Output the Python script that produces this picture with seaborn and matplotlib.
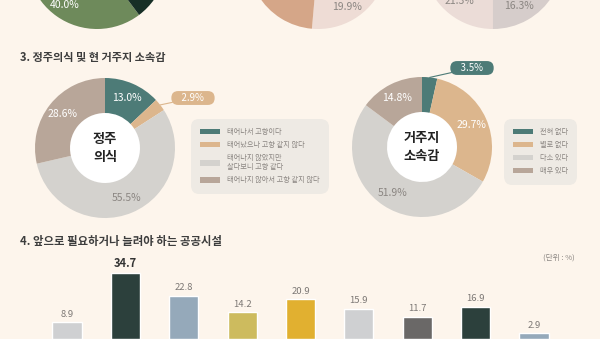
import matplotlib
matplotlib.use("Agg")
import numpy as np
import matplotlib.pyplot as plt
from matplotlib.patches import Circle
import seaborn as sns

# top row pies (only their lower edge is inside the picture)
pie1_vals = [40.0, 20.0, 25.0, 15.0]
pie1_colors = ["#6e8a5b", "#172f26", "#a7b58e", "#d3d9c0"]
pie2_vals = [19.9, 30.0, 20.0, 30.1]
pie2_colors = ["#eedcd5", "#c99c80", "#e6c7b2", "#d5a688"]
pie3_vals = [21.3, 16.3, 25.0, 37.4]
pie3_colors = ["#ebdcd7", "#d6cdcb", "#5e8a4c", "#e5dcd4"]

# 3. 정주의식 및 현 거주지 소속감
settle_labels = ["태어나서 고향이다", "태어났으나 고향 같지 않다",
                 "태어나지 않았지만\n살다보니 고향 같다", "태어나지 않아서 고향 같지 않다"]
settle_vals = [13.0, 2.9, 55.5, 28.6]
belong_labels = ["전혀 없다", "별로 없다", "다소 있다", "매우 있다"]
belong_vals = [3.5, 29.7, 51.9, 14.8]
donut_colors = ["#4d7b77", "#dcb68d", "#d4d2ce", "#b8a699"]

# 4. 앞으로 필요하거나 늘려야 하는 공공시설
facilities = ["A", "B", "C", "D", "E", "F", "G", "H", "I"]
need_vals = [8.9, 34.7, 22.8, 14.2, 20.9, 15.9, 11.7, 16.9, 2.9]
bar_colors = ["#cfd0d2", "#2c403c", "#95a9ba", "#cdbb5e", "#e1b030",
              "#cfd0d2", "#6a6867", "#2c403c", "#95a9ba"]

BG = "#fdf5ec"
GRAY_TXT = "#8b8682"
W, H = 600, 339

sns.set_theme(style="white")
plt.rcParams["font.family"] = ["Noto Sans CJK KR", "DejaVu Sans"]

fig = plt.figure(figsize=(W / 100, H / 100), dpi=100, facecolor=BG)


def px_axes(x, y, w, h):
    # pixel box, origin at top left
    ax = fig.add_axes([x / W, 1 - (y + h) / H, w / W, h / H])
    ax.set_facecolor("none")
    return ax


def draw_pie(ax, vals, colors, start, txt_colors, width=None, ccw=True, dist=0.8):
    wedges, _, autotexts = ax.pie(vals, colors=colors, startangle=start, counterclock=ccw,
                                  autopct="%.1f%%", pctdistance=dist,
                                  wedgeprops=dict(linewidth=0, width=width),
                                  textprops=dict(fontsize=7.5))
    for t, v, c in zip(autotexts, vals, txt_colors):
        # show the printed value, not the recomputed share
        t.set_text(f"{v:.1f}%")
        if c is None:
            t.set_visible(False)
        else:
            t.set_color(c)
    ax.set_xlim(-1, 1)
    ax.set_ylim(-1, 1)
    return wedges


# top pies
ax1 = px_axes(27, -111, 140, 140)
draw_pie(ax1, pie1_vals, pie1_colors, -197, ["white", None, None, None])
ax2 = px_axes(248, -111, 140, 140)
draw_pie(ax2, pie2_vals, pie2_colors, -95, [GRAY_TXT, None, None, None])
ax3 = px_axes(423, -111, 140, 140)
draw_pie(ax3, pie3_vals, pie3_colors, -166.7, [GRAY_TXT, GRAY_TXT, None, None], dist=0.77)

fig.text(20 / W, 1 - 58 / H, "3. 정주의식 및 현 거주지 소속감", fontsize=8,
         weight="bold", color="#3d3d3d", va="center")


def draw_donut(ax, vals, labels, center_txt, txt_colors, callout, callout_xy, legend_xy):
    wedges = draw_pie(ax, vals, donut_colors, 90, txt_colors, width=0.5, ccw=False, dist=0.78)
    ax.add_patch(Circle((0, 0), 0.5, color="white", zorder=0.5))
    ax.text(0, 0, center_txt, ha="center", va="center", fontsize=9.5, weight="bold",
            color="#222222", linespacing=1.35)
    # small slice gets a label box outside
    w = wedges[callout]
    ang = np.deg2rad((w.theta1 + w.theta2) / 2)
    col = donut_colors[callout]
    ax.annotate(f"    {vals[callout]:.1f}%    ", xy=(np.cos(ang), np.sin(ang)),
                xytext=(callout_xy[0], H - callout_xy[1]), textcoords="figure pixels",
                ha="center", va="center", fontsize=7, color="white",
                bbox=dict(boxstyle="round,pad=0.2,rounding_size=0.7", fc=col, ec="none"),
                arrowprops=dict(arrowstyle="-", color=col, lw=0.8, shrinkA=0, shrinkB=0))
    leg = ax.legend(wedges, labels, loc="upper left",
                    bbox_to_anchor=(legend_xy[0] / W, 1 - legend_xy[1] / H),
                    bbox_transform=fig.transFigure, fontsize=5.2, frameon=True,
                    facecolor="#eeeae4", edgecolor="none", labelcolor=GRAY_TXT,
                    handlelength=2.8, handleheight=0.8, handletextpad=0.9,
                    labelspacing=0.7, borderpad=1.3, fancybox=True)
    leg.get_frame().set_boxstyle("round,pad=0,rounding_size=1.2")
    leg.get_frame().set_alpha(1)


axl = px_axes(35, 78, 140, 140)
draw_donut(axl, settle_vals, settle_labels, "정주\n의식",
           ["white", None, GRAY_TXT, "white"], 1, (193, 98), (187, 115))
axr = px_axes(352, 77, 140, 140)
draw_donut(axr, belong_vals, belong_labels, "거주지\n소속감",
           [None, "white", GRAY_TXT, "white"], 0, (472, 68), (500, 115))

# bars
fig.text(20 / W, 1 - 242 / H, "4. 앞으로 필요하거나 늘려야 하는 공공시설", fontsize=8.2,
         weight="bold", color="#3d3d3d", va="center")
fig.text(575 / W, 1 - 258 / H, "(단위 : %)", fontsize=5.5, color=GRAY_TXT,
         ha="right", va="center")

axb = px_axes(37.8, 339 - 76, 525.4, 76)
sns.barplot(x=facilities, y=need_vals, hue=facilities, palette=bar_colors, legend=False,
            width=0.5, saturation=1, ax=axb)
top = max(need_vals)
for cont in axb.containers:
    v = cont.datavalues[0]
    if v == top:
        axb.bar_label(cont, fmt="%.1f", padding=2.5, fontsize=8, weight="bold", color="#333333")
    else:
        axb.bar_label(cont, fmt="%.1f", padding=2.5, fontsize=6.8, color="#7d7875")
axb.set_xlim(-0.5, 8.5)
axb.set_ylim(0, 40)
axb.set(xlabel="", ylabel="", xticks=[], yticks=[])
sns.despine(ax=axb, left=True, bottom=True)

fig.savefig("out.png", dpi=100, facecolor=BG)
